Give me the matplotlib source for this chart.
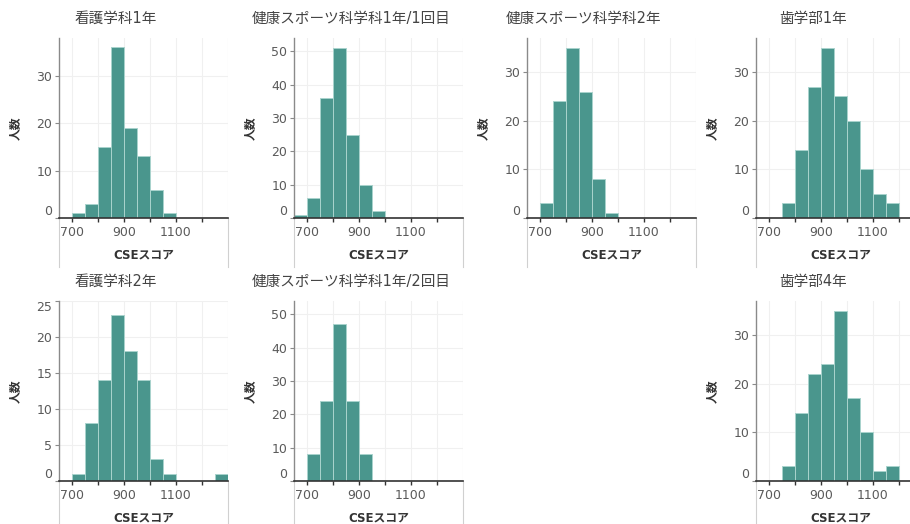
import matplotlib.pyplot as plt
from matplotlib.ticker import MultipleLocator, FixedLocator

plt.rcParams['font.family'] = ['DejaVu Sans', 'Noto Sans CJK JP']

# histogram bins (left edges, width 50)
bin_starts = [650, 700, 750, 800, 850, 900, 950, 1000, 1050, 1100, 1150, 1200, 1250]

titles = ['看護学科1年', '健康スポーツ科学科1年/1回目', '健康スポーツ科学科2年', '歯学部1年',
          '看護学科2年', '健康スポーツ科学科1年/2回目', '歯学部4年']

counts_nurse1 = [0, 1, 3, 15, 36, 19, 13, 6, 1, 0, 0, 0, 0]
counts_sport1_1 = [1, 6, 36, 51, 25, 10, 2, 0, 0, 0, 0, 0, 0]
counts_sport2 = [0, 3, 24, 35, 26, 8, 1, 0, 0, 0, 0, 0, 0]
counts_dent1 = [0, 0, 3, 14, 27, 35, 25, 20, 10, 5, 3, 0, 0]
counts_nurse2 = [0, 1, 8, 14, 23, 18, 14, 3, 1, 0, 0, 0, 1]
counts_sport1_2 = [0, 8, 24, 47, 24, 8, 0, 0, 0, 0, 0, 0, 0]
counts_dent4 = [0, 0, 3, 14, 22, 24, 35, 17, 10, 2, 3, 0, 0]

all_counts = [counts_nurse1, counts_sport1_1, counts_sport2, counts_dent1,
              counts_nurse2, counts_sport1_2, counts_dent4]

xtick_labels = ['700', '', '900', '', '1100', '']
xticks = [700, 800, 900, 1000, 1100, 1200]

# layout (pixels)
W, H = 910, 524
col_left = [59, 294, 527, 756]
row_top = [38, 301]
aw, ah = 169, 180
cells = [(0, 0), (0, 1), (0, 2), (0, 3), (1, 0), (1, 1), (1, 3)]
y_tops = [38, 54, 37, 37, 25, 54, 37]
y_steps = [10, 10, 10, 10, 5, 10, 10]

bar_color = '#4a968d'
grey = '#5a5a5a'

fig = plt.figure(figsize=(W / 100, H / 100), dpi=100)

for i, (r, c) in enumerate(cells):
    left, top = col_left[c], row_top[r]
    ax = fig.add_axes([left / W, 1 - (top + ah) / H, aw / W, ah / H])
    ax.bar(bin_starts, all_counts[i], width=50, align='edge', color=bar_color,
           edgecolor='#a9d3cd', linewidth=0.7, zorder=2)
    ax.set_xlim(650, 1300)
    ax.set_ylim(0, y_tops[i])

    ax.xaxis.set_major_locator(FixedLocator(xticks))
    ax.set_xticklabels(xtick_labels)
    ax.yaxis.set_major_locator(MultipleLocator(y_steps[i]))
    ax.grid(True, color='#f0f0f0', linewidth=0.8, zorder=0)
    ax.set_axisbelow(True)
    ax.axvline(1300, color='#ebebeb', linewidth=0.8, zorder=0)

    for s in ['top', 'right']:
        ax.spines[s].set_visible(False)
    ax.spines['bottom'].set_color('#333333')
    ax.spines['bottom'].set_linewidth(1.2)
    ax.spines['left'].set_color('#8a8a8a')
    ax.spines['left'].set_linewidth(1.0)

    ax.tick_params(axis='x', length=3, width=1, color='#333333', labelsize=9,
                   labelcolor=grey, pad=3)
    ax.tick_params(axis='y', length=3, width=0.8, color='#8a8a8a', labelsize=9,
                   labelcolor=grey, pad=2)

    # flush the end labels of the y axis
    fig.canvas.draw()
    yt = ax.yaxis.get_major_ticks()
    locs = ax.get_yticks()
    for t, v in zip(yt, locs):
        if v == 0:
            t.label1.set_va('bottom')
        elif v == y_tops[i]:
            t.label1.set_va('top')

    ax.text(57 / aw, 1 + 20 / ah, titles[i], transform=ax.transAxes, ha='center',
            va='center', fontsize=10.5, color='#444444')
    ax.text(0.5, -37 / ah, 'CSEスコア', transform=ax.transAxes, ha='center',
            va='center', fontsize=8.5, fontweight='bold', color='#333333')
    ax.text(-44 / aw, 0.5, '人数', transform=ax.transAxes, ha='center', va='center',
            rotation=90, fontsize=8.5, fontweight='bold', color='#333333')

    # thin frame lines below the plot
    for xf in [0, 1]:
        ax.plot([xf, xf], [0, -49 / ah], transform=ax.transAxes, clip_on=False,
                color='#d0d0d0', linewidth=0.8)

fig.savefig('out.png', dpi=100)
